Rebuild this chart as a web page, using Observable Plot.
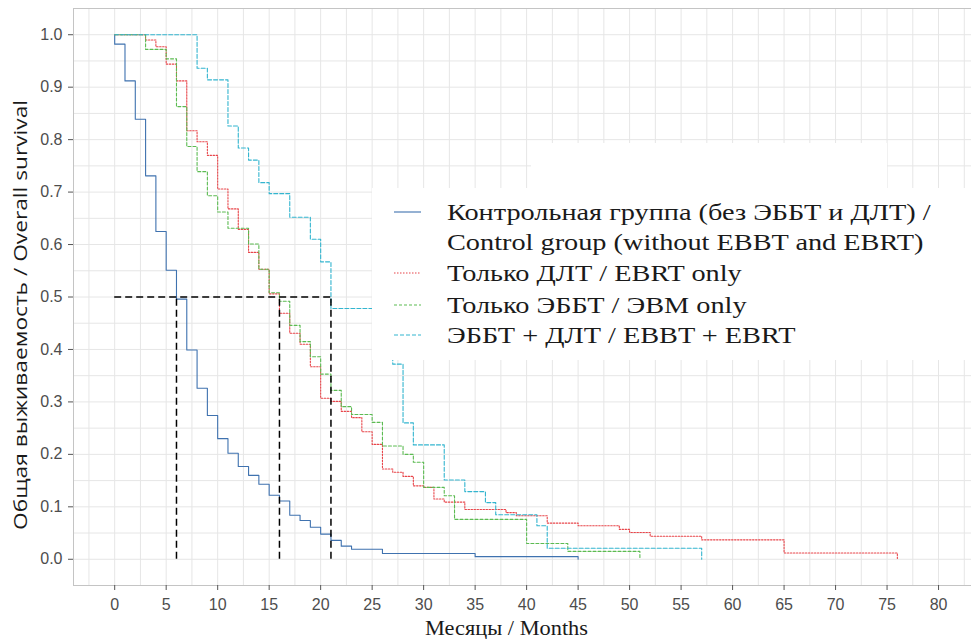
<!DOCTYPE html>
<html><head><meta charset="utf-8">
<script src="https://cdn.jsdelivr.net/npm/d3@7"></script>
<script src="https://cdn.jsdelivr.net/npm/@observablehq/plot@0.6"></script>
<style>
body{margin:0;background:#fff;}
#wrap{position:relative;width:971px;height:639px;overflow:hidden;background:#fff;}
#legend{position:absolute;left:372px;top:188px;width:599px;height:172px;background:#fff;}
#legend-top{position:absolute;left:531px;top:143px;width:356px;height:46px;background:#fff;}
.row{position:absolute;left:75px;height:31px;line-height:31px;font-family:"Liberation Serif";font-size:23px;color:#1a1a1a;white-space:nowrap;transform-origin:left center;transform:scaleX(1.23);}
.key{position:absolute;left:22px;}
</style></head>
<body><div id="wrap"></div>
<script>
// ---- data ----
const xTicks = [0,5,10,15,20,25,30,35,40,45,50,55,60,65,70,75,80];
const yTicks = [0,0.1,0.2,0.3,0.4,0.5,0.6,0.7,0.8,0.9,1.0];
const medianMonths = [6, 16, 21];
const medianLevel = 0.5;

const controlMonths = [0,0,1,2,3,4,5,6,7,8,9,10,11,12,13,14,15,16,17,18,19,20,21,22,23,26,35,45];
const controlSurvival = [1.0,0.982,0.912,0.839,0.731,0.625,0.551,0.496,0.399,0.326,0.274,0.230,0.202,0.177,0.160,0.143,0.122,0.111,0.084,0.074,0.061,0.048,0.036,0.025,0.019,0.011,0.005,0];

const ebrtMonths = [0,3,4,5,6,7,8,9,10,11,12,13,14,15,16,17,18,19,20,21,22,23,24,25,26,27,28,29,30,31,32,34,38,39,42,45,49,50,52,57,65,76];
const ebrtSurvival = [1,0.99,0.977,0.944,0.912,0.817,0.796,0.770,0.706,0.668,0.629,0.585,0.553,0.506,0.469,0.431,0.410,0.367,0.307,0.301,0.282,0.270,0.243,0.219,0.172,0.166,0.158,0.140,0.137,0.115,0.109,0.095,0.089,0.083,0.069,0.064,0.057,0.051,0.044,0.037,0.012,0];

const ebbtMonths = [0,3,5,6,7,8,9,10,11,13,14,15,16,17,18,19,20,21,22,23,25,26,28,29,30,32,33,40,44,51];
const ebbtSurvival = [1,0.972,0.954,0.863,0.787,0.739,0.693,0.662,0.631,0.601,0.553,0.508,0.492,0.446,0.415,0.386,0.353,0.322,0.291,0.276,0.261,0.216,0.200,0.185,0.137,0.121,0.076,0.030,0.015,0];

const comboMonths = [0,8,9,11,12,13,14,15,17,19,20,21,27,28,29,32,34,36,37,41,42,57];
const comboSurvival = [1,0.936,0.914,0.826,0.784,0.761,0.718,0.697,0.652,0.610,0.567,0.478,0.372,0.260,0.218,0.151,0.129,0.108,0.085,0.064,0.021,0];

const legendLabels = [
  ["Контрольная группа (без ЭББТ и ДЛТ) /", "Control group (without EBBT and EBRT)"],
  ["Только ДЛТ / EBRT only"],
  ["Только ЭББТ / ЭВМ only"],
  ["ЭББТ + ДЛТ / EBBT + EBRT"]
];
const xTitle = "Месяцы / Months";
const yTitle = "Общая выживаемость / Overall survival";

// ---- styles ----
const series = [
  {months: controlMonths, surv: controlSurvival, color: "#3f72af", dash: null},
  {months: ebrtMonths, surv: ebrtSurvival, color: "#e8454a", dash: "1.5,1.5"},
  {months: ebbtMonths, surv: ebbtSurvival, color: "#5cbb52", dash: "3,2"},
  {months: comboMonths, surv: comboSurvival, color: "#33b5cf", dash: "4,2"}
];
const toRows = s => s.months.map((t, i) => ({t, s: s.surv[i]}));

const xMinor = d3.range(-2.5, 83, 2.5);
const yMinor = d3.range(0, 21).map(i => i * 0.05);

const plot = Plot.plot({
  width: 971, height: 639,
  marginLeft: 73, marginRight: 0, marginTop: 8, marginBottom: 54,
  x: {domain: [-4, 83.2]},
  y: {domain: [-0.05, 1.05]},
  style: {fontFamily: "Liberation Sans", fontSize: "16px", color: "#4d4d4d", background: "white", overflow: "visible"},
  marks: [
    Plot.gridX(xMinor, {stroke: "#e6e6e6", strokeOpacity: 1, strokeWidth: 1}),
    Plot.gridY(yMinor, {stroke: "#e6e6e6", strokeOpacity: 1, strokeWidth: 1}),
    Plot.frame({stroke: "#c4c4c4"}),
    Plot.axisX(xTicks, {tickSize: 5, tickPadding: 8, label: null, stroke: "#555"}),
    Plot.axisY(yTicks, {tickSize: 5, tickPadding: 6, tickFormat: d3.format(".1f"), label: null, stroke: "#555"}),
    ...series.map(s => Plot.line(toRows(s), {x: "t", y: "s", curve: "step-after", stroke: s.color, strokeWidth: 1.1, strokeDasharray: s.dash})),
    Plot.ruleX(medianMonths, {y1: 0, y2: medianLevel, stroke: "black", strokeWidth: 1.5, strokeDasharray: "7,4"}),
    Plot.ruleY([medianLevel], {x1: 0, x2: d3.max(medianMonths), stroke: "black", strokeWidth: 1.5, strokeDasharray: "7,4"}),
    Plot.text([xTitle], {frameAnchor: "bottom", textAnchor: "middle", lineAnchor: "middle", dx: -16, dy: 43, fontFamily: "Liberation Serif", fontSize: 21, fill: "#1a1a1a"}),
    Plot.text([yTitle], {frameAnchor: "left", textAnchor: "middle", lineAnchor: "middle", rotate: -90, dx: -53, dy: 18, fontFamily: "Open Sans", fontSize: 19, fill: "#1a1a1a"})
  ]
});
const wrap = document.getElementById("wrap");
wrap.appendChild(plot);

// fit title lengths to the reference
d3.select(plot).selectAll("text").each(function() {
  const t = this.textContent;
  if (t === xTitle) d3.select(this).attr("textLength", 163).attr("lengthAdjust", "spacingAndGlyphs");
  if (t === yTitle) d3.select(this).attr("textLength", 430).attr("lengthAdjust", "spacingAndGlyphs");
});

// ---- legend overlay ----
const legTop = document.createElement("div"); legTop.id = "legend-top"; wrap.appendChild(legTop);
const leg = document.createElement("div"); leg.id = "legend"; wrap.appendChild(leg);
const rowCenters = [24, 54, 85, 117, 147];
let r = 0;
legendLabels.forEach((lines, gi) => {
  const k = d3.select(leg).append("svg").attr("class", "key")
    .attr("width", 27).attr("height", 4)
    .style("top", (rowCenters[r] - 2) + "px");
  k.append("line").attr("x1", 0).attr("x2", 27).attr("y1", 2).attr("y2", 2)
    .attr("stroke", series[gi].color).attr("stroke-width", 1.1)
    .attr("stroke-dasharray", series[gi].dash);
  lines.forEach(txt => {
    const d = document.createElement("div");
    d.className = "row"; d.textContent = txt;
    d.style.top = (rowCenters[r] - 15.5) + "px";
    leg.appendChild(d);
    r++;
  });
});
</script>
</body></html>
